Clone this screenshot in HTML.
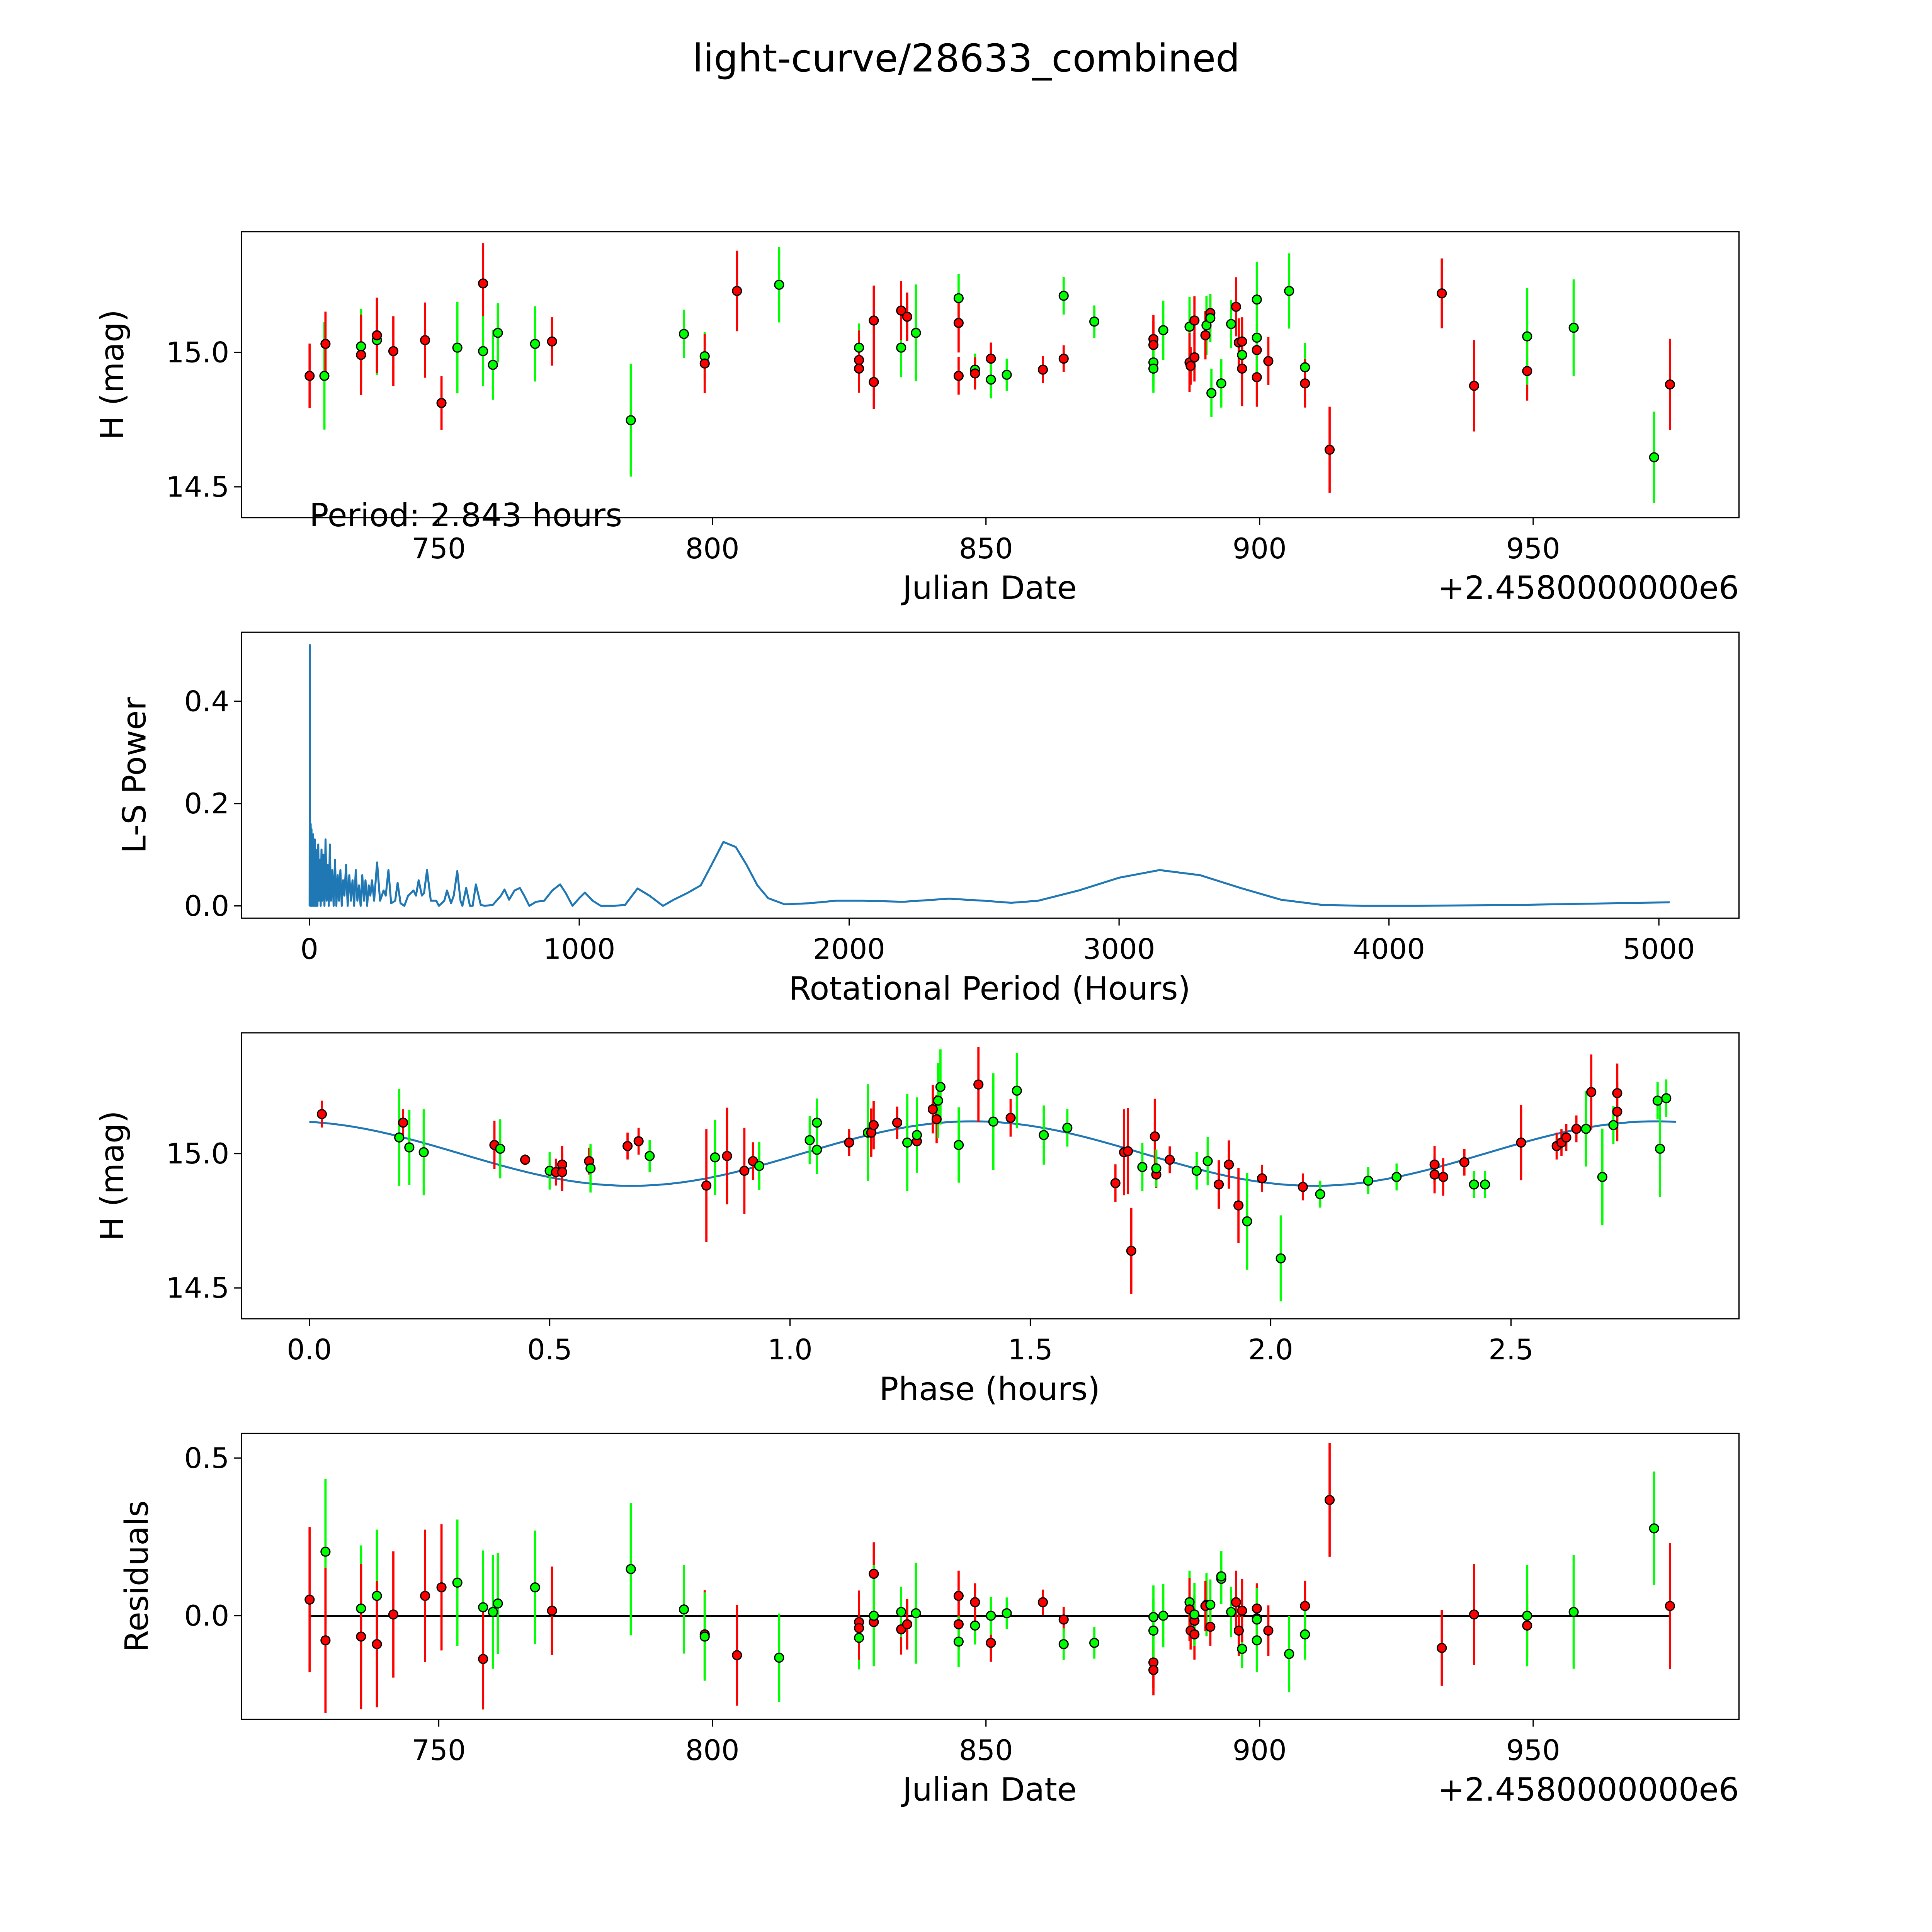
<!DOCTYPE html>
<html><head><meta charset="utf-8">
<style>
html,body{margin:0;padding:0;background:#fff;overflow:hidden;width:5400px;height:5400px;}
svg{display:block;}
text{font-family:"DejaVu Sans","Liberation Sans",sans-serif;fill:#000;}
</style></head>
<body>
<svg id="fig" xmlns="http://www.w3.org/2000/svg" width="5400" height="5400" viewBox="0 0 1693 1693">
<rect x="0" y="0" width="1693" height="1693" fill="#fff"/>
<text x="784" y="58" font-size="31" text-anchor="middle">light-curve/28633_combined</text>
</svg>
<script>
// ---- Panel 1: light curve ----
const lcDay=[726.4,729.1,729.3,735.8,735.8,738.7,738.7,741.7,747.5,750.5,753.4,758.1,758.1,759.9,760.8,767.6,770.7,785.1,794.8,798.6,798.6,804.5,812.2,826.8,826.8,826.8,829.5,829.5,834.5,834.5,835.6,837.2,845.0,845.0,845.0,848.0,848.0,850.9,850.9,853.8,860.4,864.2,864.2,869.8,880.6,880.6,880.6,880.6,882.4,887.2,887.2,887.4,888.1,888.1,890.3,890.1,891.0,891.0,891.2,893.0,894.8,895.7,896.2,896.8,896.8,896.8,899.5,899.5,899.5,899.5,901.6,905.4,908.3,908.3,912.8,933.3,939.2,948.9,948.9,957.4,972.1,975.0];
const lcMag=[14.913,14.913,15.032,15.023,14.991,15.046,15.064,15.005,15.046,14.812,15.018,15.257,15.005,14.954,15.073,15.032,15.041,14.748,15.069,14.986,14.959,15.229,15.252,15.018,14.972,14.940,15.119,14.890,15.018,15.156,15.133,15.073,15.202,15.110,14.913,14.936,14.922,14.977,14.899,14.917,14.936,14.977,15.211,15.115,15.050,15.028,14.963,14.940,15.083,15.096,14.963,14.950,14.982,15.119,15.101,15.064,15.147,15.128,14.849,14.885,15.106,15.170,15.037,15.041,14.991,14.940,14.908,15.009,15.055,15.197,14.968,15.229,14.945,14.885,14.638,15.220,14.876,14.931,15.060,15.092,14.610,14.881];
const lcErr=[0.12,0.20,0.12,0.14,0.15,0.13,0.14,0.13,0.14,0.10,0.17,0.15,0.13,0.13,0.11,0.14,0.09,0.21,0.09,0.09,0.11,0.15,0.14,0.09,0.11,0.09,0.13,0.10,0.11,0.11,0.09,0.18,0.09,0.11,0.07,0.06,0.06,0.06,0.07,0.06,0.05,0.05,0.07,0.06,0.09,0.09,0.09,0.09,0.11,0.11,0.11,0.07,0.09,0.09,0.11,0.09,0.07,0.09,0.09,0.09,0.09,0.11,0.09,0.09,0.07,0.14,0.11,0.09,0.14,0.14,0.09,0.14,0.09,0.09,0.16,0.13,0.17,0.11,0.18,0.18,0.17,0.17];
const lcColor=("rgrgrgrrrr"+"grggggrggg"+"rrggrrrrgr"+"rggrrgrrgg"+"rrggrrgggg"+"rrrrgrrggg"+"grrrgrrrgg"+"rggrrrrrgg"+"gr").split("");
// ---- Panel 2: periodogram ----
const lsPeriod=[1,2,3,5,6,8,9,11,12,14,
 15,17,18,20,22,24,26,28,30,33,
 36,39,42,45,48,52,56,60,64,68,
 72,76,80,85,90,95,100,105,110,115,
 120,125,130,136,142,148,154,160,166,172,
 178,184,190,196,202,208,214,220,226,232,
 240,251,262,275,283,293,303,318,327,338,
 352,366,386,395,405,417,425,436,450,470,
 480,500,510,525,535,548,560,567,581,595,
 605,617,635,650,680,710,723,740,760,780,
 796,815,840,870,900,929,950,975,1000,1021,
 1050,1080,1130,1170,1216,1260,1310,1350,1400,1450,
 1490,1534,1580,1620,1660,1700,1761,1850,1950,2050,
 2200,2370,2500,2600,2700,2850,3000,3150,3300,3450,
 3600,3750,3900,4100,4500,5040];
const lsPower=[0,0.51,0,0.16,0,0.15,0,0.13,0,0.14,
 0,0.12,0,0.13,0,0.11,0,0.10,0,0.12,
 0.01,0.09,0,0.11,0.01,0.10,0,0.13,0.01,0.08,
 0,0.12,0.01,0.07,0,0.09,0,0.06,0.01,0.07,
 0,0.05,0.02,0.08,0,0.06,0.01,0.05,0,0.07,
 0.01,0.04,0,0.06,0.01,0.05,0,0.04,0.02,0.05,
 0.01,0.085,0.01,0.03,0.02,0.07,0.005,0.01,0.045,0.005,
 0.0,0.02,0.03,0.02,0.05,0.02,0.025,0.07,0.01,0.01,
 0.0,0.01,0.03,0.005,0.02,0.068,0.01,0.0,0.035,0.0,
 0.0,0.042,0.002,0.0,0.002,0.02,0.032,0.012,0.03,0.035,
 0.02,0.0,0.008,0.01,0.03,0.042,0.025,0.0,0.015,0.026,
 0.01,0.0,0.0,0.002,0.034,0.02,0.0,0.012,0.025,0.04,
 0.08,0.125,0.115,0.08,0.04,0.015,0.003,0.005,0.01,0.01,
 0.008,0.014,0.01,0.006,0.01,0.03,0.055,0.07,0.06,0.035,
 0.012,0.002,0.0,0.0,0.002,0.007];
// ---- Panel 3: phase-folded ----
const phPhase=[0.026,0.187,0.195,0.208,0.238,0.385,0.397,0.449,0.500,0.513,0.526,0.526,0.582,0.585,0.662,0.685,0.708,0.826,0.844,0.869,0.905,0.923,0.936,1.041,1.056,1.056,1.123,1.162,1.169,1.174,1.223,1.244,1.264,1.264,1.297,1.305,1.308,1.313,1.351,1.392,1.423,1.459,1.472,1.528,1.577,1.677,1.695,1.703,1.710,1.733,1.759,1.762,1.762,1.790,1.846,1.869,1.892,1.913,1.933,1.951,1.982,2.021,2.067,2.103,2.203,2.262,2.341,2.341,2.359,2.403,2.423,2.446,2.521,2.595,2.605,2.615,2.636,2.656,2.667,2.690,2.713,2.721,2.721,2.805,2.823,2.810];
const phMag=[15.147,15.060,15.115,15.023,15.005,15.032,15.018,14.977,14.936,14.931,14.959,14.931,14.972,14.945,15.028,15.046,14.991,14.881,14.986,14.991,14.936,14.972,14.954,15.050,15.115,15.014,15.041,15.078,15.078,15.106,15.115,15.041,15.046,15.069,15.165,15.128,15.197,15.248,15.032,15.257,15.119,15.133,15.234,15.069,15.096,14.890,15.005,15.009,14.638,14.950,15.064,14.922,14.945,14.977,14.936,14.972,14.885,14.959,14.807,14.748,14.908,14.610,14.876,14.849,14.899,14.913,14.959,14.922,14.913,14.968,14.885,14.885,15.041,15.028,15.041,15.060,15.092,15.092,15.229,14.913,15.106,15.225,15.156,15.197,15.206,15.018];
const phErr=[0.05,0.18,0.05,0.14,0.16,0.09,0.11,0.02,0.07,0.05,0.07,0.07,0.05,0.09,0.05,0.05,0.06,0.21,0.14,0.18,0.16,0.07,0.09,0.09,0.09,0.09,0.05,0.18,0.09,0.09,0.06,0.18,0.11,0.14,0.09,0.09,0.14,0.14,0.14,0.14,0.18,0.07,0.14,0.11,0.07,0.07,0.16,0.16,0.16,0.09,0.14,0.05,0.07,0.05,0.07,0.09,0.09,0.09,0.14,0.18,0.05,0.16,0.05,0.05,0.05,0.05,0.07,0.07,0.07,0.05,0.05,0.05,0.14,0.05,0.05,0.05,0.05,0.14,0.14,0.18,0.07,0.11,0.11,0.07,0.07,0.18];
const phColor=("rgrggrgrgr"+"rrrgrrgrgr"+"rrggggrgrr"+"rgrgrrgggr"+"grgggrrrrg"+"rrgrggrrrg"+"rgrgggrrrr"+"ggrrrrrgrg"+"grrggg").split("");
const modelParams=[15.0,0.12,1.38]; // mean mag, amplitude, phase of max
const modelPeriod=[2.843];
// ---- Panel 4: residuals ----
const rsDay=[726.4,729.3,729.3,735.8,735.8,738.7,738.7,741.7,747.5,750.5,753.4,758.1,758.1,759.9,760.8,767.6,770.7,785.1,794.8,798.6,798.6,804.5,812.2,826.8,826.8,826.8,829.5,829.5,829.5,834.5,834.5,835.6,837.2,845.0,845.0,845.0,848.0,848.0,850.9,850.9,853.8,860.4,864.2,864.2,869.8,880.6,880.6,880.6,880.6,882.4,887.2,887.2,887.4,888.1,888.1,888.1,890.3,890.1,891.0,891.0,893.0,893.0,894.8,895.7,896.2,896.8,896.8,899.5,899.5,899.5,899.5,901.6,905.4,908.3,908.3,912.8,933.3,939.2,948.9,948.9,957.4,972.1,975.0];
const rsVal=[0.051,0.203,-0.078,0.023,-0.066,0.063,-0.090,0.004,0.063,0.090,0.105,0.027,-0.137,0.012,0.039,0.090,0.016,0.148,0.020,-0.059,-0.066,-0.125,-0.133,-0.070,-0.020,-0.039,0.133,-0.020,0.000,-0.043,0.012,-0.027,0.008,0.063,-0.027,-0.082,-0.031,0.043,-0.086,0.000,0.008,0.043,-0.012,-0.090,-0.086,-0.148,-0.172,-0.047,-0.004,0.000,0.043,0.020,-0.047,-0.059,-0.016,0.004,0.035,0.031,-0.035,0.035,0.117,0.125,0.012,0.043,-0.047,-0.105,0.016,-0.008,0.023,-0.078,-0.012,-0.047,-0.121,0.031,-0.059,0.367,-0.102,0.004,-0.031,0.000,0.012,0.277,0.031];
const rsErr=[0.23,0.23,0.23,0.20,0.23,0.21,0.20,0.20,0.21,0.20,0.20,0.18,0.16,0.18,0.16,0.18,0.14,0.21,0.14,0.14,0.14,0.16,0.14,0.10,0.10,0.10,0.10,0.10,0.16,0.08,0.08,0.08,0.16,0.08,0.08,0.08,0.06,0.06,0.06,0.06,0.05,0.04,0.04,0.05,0.05,0.08,0.08,0.10,0.10,0.10,0.10,0.10,0.06,0.08,0.08,0.10,0.10,0.08,0.06,0.08,0.08,0.08,0.08,0.10,0.08,0.06,0.10,0.10,0.08,0.10,0.10,0.08,0.12,0.08,0.08,0.18,0.12,0.16,0.10,0.16,0.18,0.18,0.20];
const rsColor=("rgrgrgrrrr"+"ggrgggrggr"+"grggrrrrgr"+"grgrrggrrg"+"grrggrrggg"+"grrrrggrrg"+"gggrrgrrrg"+"grgrgrrrrg"+"ggr").split("");
const xTicksJD=[750,800,850,900,950];

const NS="http://www.w3.org/2000/svg";
const fig=document.getElementById('fig');
function mk(tag,attrs,parent){const e=document.createElementNS(NS,tag);for(const k in attrs)e.setAttribute(k,attrs[k]);(parent||fig).appendChild(e);return e;}
function txt(s,attrs,parent){const e=mk('text',attrs,parent);e.textContent=s;return e;}

function axes(name,top,xScale,yScale,xTicks,xFmt,yTicks,yFmt,xLabel,yLabel,yLabelX,offsetText){
  const g=mk('g',{});
  
  
  const L=196,R=1411,T=top,B=top+232;
  const frame=mk('rect',{x:L,y:T,width:R-L,height:B-T,fill:'none',stroke:'#000','stroke-width':1},g);
  
  
  xTicks.forEach(v=>{const x=xScale(v);
    const t=mk('line',{x1:x,x2:x,y1:B,y2:B+6,stroke:'#000','stroke-width':1},g);
    
    
    const l=txt(xFmt(v),{x:x,y:B+33,'font-size':23,'text-anchor':'middle'},g);
    
    
  });
  yTicks.forEach(v=>{const y=yScale(v);
    const t=mk('line',{x1:L-6,x2:L,y1:y,y2:y,stroke:'#000','stroke-width':1},g);
    
    
    const l=txt(yFmt(v),{x:L-10,y:y+8,'font-size':23,'text-anchor':'end'},g);
    
    
  });
  const xl=txt(xLabel,{x:803,y:B+66,'font-size':26,'text-anchor':'middle'},g);
  
  
  const yl=txt(yLabel,{x:yLabelX,y:(T+B)/2,'font-size':26,'text-anchor':'middle',transform:`rotate(-90 ${yLabelX} ${(T+B)/2})`},g);
  
  
  if(offsetText){const o=txt(offsetText,{x:R,y:B+66,'font-size':26,'text-anchor':'end'},g);
    
    }
  return g;
}
function errPoints(g,xs,ys,es,cs,xS,yS,name){
  const bars=mk('g',{},g);
  
  
  const pts=mk('g',{},g);
  
  
  for(let i=0;i<xs.length;i++){
    const col=cs[i]==='r'?'#ff0000':'#00ff00';
    const x=xS(xs[i]);
    const b=mk('line',{x1:x,x2:x,y1:yS(ys[i]-es[i]),y2:yS(ys[i]+es[i]),stroke:col,'stroke-width':1.8},bars);
    
    
    const c=mk('circle',{cx:x,cy:yS(ys[i]),r:3.6,fill:col,stroke:'#000','stroke-width':1},pts);
    
    
  }
}
const jdX=d=>356+(d-750)*4.44;

// Panel 1
const y1=m=>286-(m-15)*218;
const g1=axes('light-curve-panel',188,jdX,y1,xTicksJD,v=>String(v),[14.5,15.0],v=>v.toFixed(1),'Julian Date','H (mag)',100,'+2.4580000000e6');
errPoints(g1,lcDay,lcMag,lcErr,lcColor,jdX,y1,'light-curve');
const pt=txt('Period: 2.843 hours',{x:251,y:427,'font-size':26},g1);



// Panel 2
const x2=h=>251+h*0.219, y2=p=>735-p*415;
const g2=axes('periodogram-panel',513,x2,y2,[0,1000,2000,3000,4000,5000],v=>String(v),[0,0.2,0.4],v=>v.toFixed(1),'Rotational Period (Hours)','L-S Power',118,null);
let d2='';
for(let i=0;i<lsPeriod.length;i++)d2+=(i?'L':'M')+x2(lsPeriod[i]).toFixed(2)+' '+y2(lsPower[i]).toFixed(2);
const p2=mk('path',{d:d2,fill:'none',stroke:'#1f77b4','stroke-width':1.6,'stroke-linejoin':'round'},g2);



// Panel 3
const x3=p=>251+p*390, y3=m=>936-(m-15)*218;
const g3=axes('phase-panel',838,x3,y3,[0,0.5,1.0,1.5,2.0,2.5],v=>v.toFixed(1),[14.5,15.0],v=>v.toFixed(1),'Phase (hours)','H (mag)',100,null);
let d3='';
for(let i=0;i<=200;i++){const p=modelPeriod[0]*i/200;
  const m=modelParams[0]+modelParams[1]*Math.cos(2*Math.PI*2*(p-modelParams[2])/modelPeriod[0]);
  d3+=(i?'L':'M')+x3(p).toFixed(2)+' '+y3(m).toFixed(2);}
const p3=mk('path',{d:d3,fill:'none',stroke:'#1f77b4','stroke-width':1.6},g3);


errPoints(g3,phPhase,phMag,phErr,phColor,x3,y3,'phase');

// Panel 4
const y4=r=>1311-r*256;
const g4=axes('residuals-panel',1163,jdX,y4,xTicksJD,v=>String(v),[0,0.5],v=>v.toFixed(1),'Julian Date','Residuals',120,'+2.4580000000e6');
const zl=mk('line',{x1:jdX(726.4),x2:jdX(975.0),y1:y4(0),y2:y4(0),stroke:'#000','stroke-width':1.5},g4);


errPoints(g4,rsDay,rsVal,rsErr,rsColor,jdX,y4,'residuals');
</script>
</body></html>
